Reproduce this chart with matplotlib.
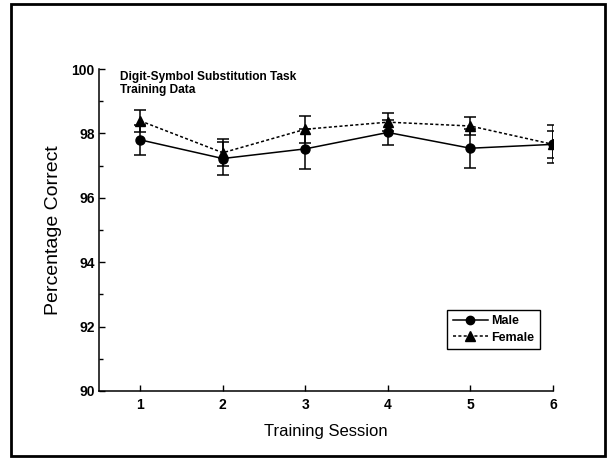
import matplotlib
matplotlib.use("Agg")
import matplotlib.pyplot as plt
from matplotlib.patches import Rectangle
from matplotlib.lines import Line2D
from matplotlib.ticker import MultipleLocator

plt.rcParams['font.family'] = ['Liberation Sans', 'DejaVu Sans']

# 训练数据（均值与误差）
sessions = [1, 2, 3, 4, 5, 6]
male_mean = [97.80, 97.22, 97.52, 98.03, 97.54, 97.66]
male_err = [0.47, 0.50, 0.63, 0.38, 0.60, 0.59]
female_mean = [98.39, 97.40, 98.13, 98.35, 98.23, 97.66]
female_err = [0.35, 0.42, 0.42, 0.27, 0.27, 0.41]

fig = plt.figure(figsize=(6.07, 4.58), dpi=100)
ax = fig.add_axes([0.163, 0.1463, 0.748, 0.703])

female_ls = (0, (2, 1.5))
ax.errorbar(sessions, female_mean, yerr=female_err, color='black', ls=female_ls,
            lw=1.1, marker='^', ms=7, capsize=4.5, elinewidth=1.1, capthick=1.1,
            zorder=3)
ax.errorbar(sessions, male_mean, yerr=male_err, color='black', ls='-',
            lw=1.1, marker='o', ms=6.5, capsize=4.5, elinewidth=1.1, capthick=1.1,
            zorder=4)

ax.set_xlim(0.5, 6.0)
ax.set_ylim(90, 100)
ax.set_xticks(sessions)
ax.yaxis.set_major_locator(MultipleLocator(2))
ax.yaxis.set_minor_locator(MultipleLocator(1))
ax.tick_params(axis='both', which='both', direction='in', width=1)
ax.tick_params(axis='both', which='major', length=4, labelsize=10)
ax.tick_params(axis='y', which='minor', length=3)
ax.tick_params(axis='y', pad=3)
ax.tick_params(axis='x', pad=5)
for lab in ax.get_xticklabels() + ax.get_yticklabels():
    lab.set_fontweight('bold')

ax.spines['top'].set_visible(False)
ax.spines['right'].set_visible(False)
ax.spines['left'].set_linewidth(1.1)
ax.spines['bottom'].set_linewidth(1.1)

ax.set_xlabel('Training Session', fontsize=12, labelpad=9)
ax.set_ylabel('Percentage Correct', fontsize=14, labelpad=7)

ax.text(0.755, 99.95, 'Digit-Symbol Substitution Task\nTraining Data', fontsize=8.6,
        fontweight='bold', va='top', ha='left', linespacing=1.2)

# 图例只画线和标记，不带误差棒
handles = [
    Line2D([], [], color='black', ls='-', lw=1.1, marker='o', ms=6),
    Line2D([], [], color='black', ls=female_ls, lw=1.1, marker='^', ms=6.5),
]
leg = ax.legend(handles, ['Male', 'Female'], loc='lower right',
                bbox_to_anchor=(0.985, 0.11),
                fancybox=False, edgecolor='black', framealpha=1,
                prop={'weight': 'bold', 'size': 9}, handlelength=2.8,
                handletextpad=0.3, borderpad=0.45, labelspacing=0.35)
leg.get_frame().set_linewidth(1)

# 外框
fig.patches.append(Rectangle((11 / 607, 2 / 458), 594 / 607, 452 / 458,
                             transform=fig.transFigure, fill=False,
                             edgecolor='black', lw=2))

fig.savefig('out.png', dpi=100)
